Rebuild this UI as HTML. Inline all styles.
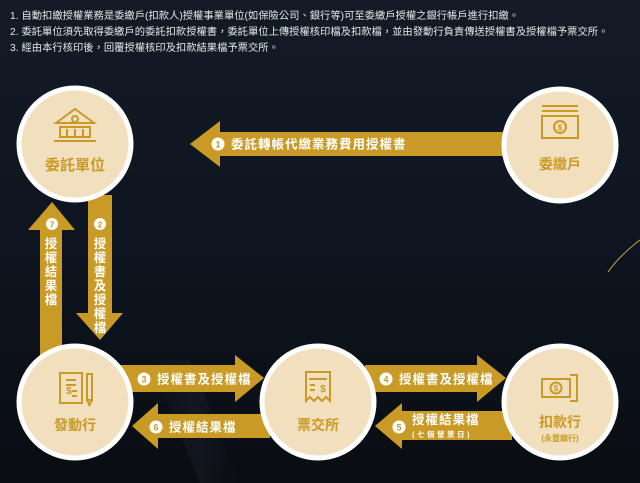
<!DOCTYPE html>
<html><head><meta charset="utf-8"><style>
html,body{margin:0;padding:0;background:#0d131b;}
svg{display:block;font-family:"Liberation Sans","Noto Sans CJK TC",sans-serif;}
</style></head><body>
<svg width="640" height="483" viewBox="0 0 640 483" xmlns="http://www.w3.org/2000/svg">
<defs>
<linearGradient id="bg" x1="0" y1="0" x2="0" y2="1">
<stop offset="0" stop-color="#121b26"/><stop offset="0.5" stop-color="#0e1520"/><stop offset="1" stop-color="#0a0d12"/>
</linearGradient>
<linearGradient id="streak" x1="0" y1="0" x2="1" y2="0">
<stop offset="0" stop-color="#3a4a5a" stop-opacity="0"/><stop offset="0.5" stop-color="#3a4a5a" stop-opacity="0.3"/><stop offset="1" stop-color="#3a4a5a" stop-opacity="0"/>
</linearGradient>
</defs>
<rect width="640" height="483" fill="url(#bg)"/>
<path d="M150 360 L190 360 L240 483 L200 483 Z" fill="url(#streak)" opacity="0.5"/>
<path d="M608 272 Q620 255 640 240" stroke="#c9a24a" stroke-width="1" fill="none"/>

<g fill="#e8e8e8" font-size="10.3">
<text x="10" y="19">1. 自動扣繳授權業務是委繳戶(扣款人)授權事業單位(如保險公司、銀行等)可至委繳戶授權之銀行帳戶進行扣繳。</text>
<text x="10" y="35">2. 委託單位須先取得委繳戶的委託扣款授權書，委託單位上傳授權核印檔及扣款檔，並由發動行負責傳送授權書及授權檔予票交所。</text>
<text x="10" y="51">3. 經由本行核印後，回覆授權核印及扣款結果檔予票交所。</text>
</g>

<g fill="#c99a26">
<path d="M505 132 L220 132 L220 121 L190 144 L220 167 L220 156 L505 156 Z"/>
<path d="M40 356 L40 230 L28 230 L52 202 L75 230 L62 230 L62 356 Z"/>
<path d="M88 195 L112 195 L112 313 L123 313 L100 340 L76 313 L88 313 Z"/>
<path d="M120 365 L235 365 L235 355 L264 378 L235 402 L235 392 L120 392 Z"/>
<path d="M270 414 L158 414 L158 403 L132 426 L158 449 L158 438 L270 438 Z"/>
<path d="M365 365 L477 365 L477 355 L506 378 L477 402 L477 392 L365 392 Z"/>
<path d="M512 411 L402 411 L402 403 L375 426 L402 449 L402 440 L512 440 Z"/>
</g>

<g font-weight="bold" fill="#fff">
<circle cx="218" cy="144" r="6.5"/><text x="218" y="147.5" font-size="9" fill="#c99a26" text-anchor="middle">1</text>
<text x="231" y="148.5" font-size="12.5" letter-spacing="1">委託轉帳代繳業務費用授權書</text>

<circle cx="52" cy="224" r="6"/><text x="52" y="227.5" font-size="8.5" fill="#c99a26" text-anchor="middle">7</text>
<g font-size="12.5" text-anchor="middle"><text x="51" y="248">授</text><text x="51" y="262">權</text><text x="51" y="276">結</text><text x="51" y="290">果</text><text x="51" y="304">檔</text></g>

<circle cx="100" cy="224" r="6"/><text x="100" y="227.5" font-size="8.5" fill="#c99a26" text-anchor="middle">2</text>
<g font-size="12.5" text-anchor="middle"><text x="100" y="248">授</text><text x="100" y="262">權</text><text x="100" y="276">書</text><text x="100" y="290">及</text><text x="100" y="304">授</text><text x="100" y="318">權</text><text x="100" y="332">檔</text></g>

<circle cx="144" cy="379" r="6.5"/><text x="144" y="382.5" font-size="9" fill="#c99a26" text-anchor="middle">3</text>
<text x="157" y="383.5" font-size="12.5" letter-spacing="1">授權書及授權檔</text>

<circle cx="156" cy="427" r="6.5"/><text x="156" y="430.5" font-size="9" fill="#c99a26" text-anchor="middle">6</text>
<text x="169" y="431.5" font-size="12.5" letter-spacing="1">授權結果檔</text>

<circle cx="386" cy="379" r="6.5"/><text x="386" y="382.5" font-size="9" fill="#c99a26" text-anchor="middle">4</text>
<text x="399" y="383.5" font-size="12.5" letter-spacing="1">授權書及授權檔</text>

<circle cx="399" cy="427" r="6.5"/><text x="399" y="430.5" font-size="9" fill="#c99a26" text-anchor="middle">5</text>
<text x="412" y="424" font-size="12.5" letter-spacing="1">授權結果檔</text>
<text x="412" y="437" font-size="7.5" letter-spacing="2.5">(七個營業日)</text>
</g>

<g fill="#f1dfbe" stroke="#fff" stroke-width="5">
<circle cx="75" cy="144" r="56"/>
<circle cx="560" cy="145" r="56"/>
<circle cx="75" cy="402" r="56"/>
<circle cx="318" cy="402" r="56"/>
<circle cx="560" cy="402" r="56"/>
</g>

<g fill="#c99a26" font-weight="bold" text-anchor="middle">
<text x="75" y="170" font-size="15">委託單位</text>
<text x="560" y="169" font-size="14">委繳戶</text>
<text x="75" y="430" font-size="14">發動行</text>
<text x="318" y="430" font-size="14">票交所</text>
<text x="560" y="427" font-size="14">扣款行</text>
<text x="560" y="441" font-size="8">(永豐銀行)</text>
</g>

<g fill="none" stroke="#c99a26" stroke-width="2">
<path d="M56 123 L75 109 L94 123 Z"/>
<circle cx="75" cy="119" r="3"/>
<rect x="60" y="127" width="30" height="10"/>
<path d="M67 129 V136 M75 129 V136 M83 129 V136"/>
<path d="M54 141 H96"/>
<rect x="542" y="116" width="36" height="22"/>
<path d="M542 111 H578 M542 106 H578"/>
<circle cx="560" cy="127" r="6"/>
<rect x="60" y="373" width="22" height="30"/>
<path d="M66 380 H76 M66 385 H76 M72 391 H77 M72 396 H77"/>
<rect x="87" y="374" width="5" height="26"/>
<path d="M87 400 L89.5 405 L92 400"/>
<path d="M306 372 H330 V401 L326 397 L322 401 L318 397 L314 401 L310 397 L306 401 Z"/>
<path d="M309 379 H327 M310 385 H315 M310 390 H315"/>
<rect x="542" y="379" width="28" height="18"/>
<circle cx="556" cy="388" r="5.5"/>
<path d="M570 375 H577 V401 H570"/>
</g>
<g fill="#c99a26" font-weight="bold" font-size="8" text-anchor="middle">
<text x="560" y="130.5">$</text>
<text x="69" y="394" font-size="10">$</text>
<text x="323" y="392" font-size="10">$</text>
<text x="556" y="391">$</text>
</g>
</svg>
</body></html>
